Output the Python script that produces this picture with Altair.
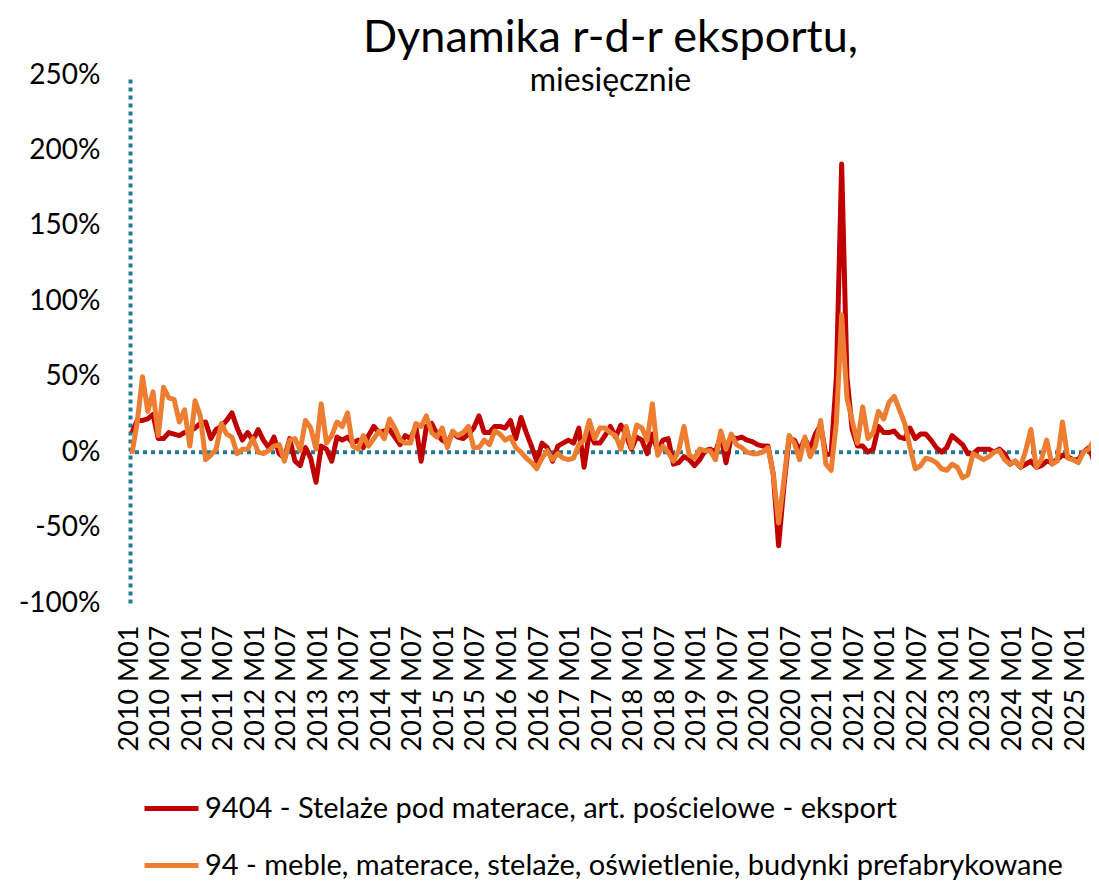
import altair as alt
import pandas as pd

years = list(range(2010, 2026))
month_codes = ["M%02d" % i for i in range(1, 13)]
n_points = 184
periods = [f"{y} {m}" for y in years for m in month_codes][:n_points]
tick_labels = [p for p in periods if p.endswith("M01") or p.endswith("M07")]

series_red = "9404 - Stelaże pod materace, art. pościelowe - eksport"
series_orange = "94 - meble, materace, stelaże, oświetlenie, budynki prefabrykowane"

red_values = [13, 21, 21, 22, 25, 9, 9, 13, 12, 11,
              13, 14, 16, 19, 20, 9, 15, 17, 21, 26,
              16, 8, 13, 8, 15, 8, 3, 10, -1, -4,
              9, -6, -9, 3, -4, -20, 4, 2, -6, 10,
              8, 10, 6, 8, 3, 11, 17, 13, 14, 15,
              10, 5, 11, 9, 17, -6, 17, 19, 12, 8,
              6, 13, 10, 9, 12, 16, 24, 13, 13, 17,
              17, 16, 21, 9, 23, 13, 4, -6, 6, 3,
              -6, 4, 6, 8, 6, 16, -10, 13, 6, 6,
              11, 17, 10, 18, 11, 2, 10, 8, -1, 12,
              1, 8, 9, -8, -7, -3, -5, -9, -5, 1,
              2, 0, 11, -7, 10, 9, 10, 8, 7, 5,
              4, 4, -15, -62, -23, 9, 8, 1, 9, 2,
              12, 18, -2, -1, 50, 191, 50, 15, 4, 4,
              0, 2, 17, 13, 13, 14, 10, 9, 16, 9,
              12, 12, 8, 3, 0, 3, 11, 8, 5, -1,
              -1, 2, 2, 2, 0, 2, -1, -8, -6, -10,
              -8, -6, -10, -9, -6, -7, -5, -2, -3, -5,
              -5, 0, 3, -6]

orange_values = [-1, 20, 50, 27, 40, 11, 43, 36, 35, 20,
                 28, 4, 34, 24, -5, -2, 2, 19, 12, 10,
                 -1, 2, 2, 9, 0, -1, 1, 4, 5, -6,
                 8, 9, 1, 21, 16, 2, 32, 6, 11, 20,
                 17, 26, 4, 2, 11, 4, 9, 14, 9, 22,
                 16, 8, 6, 6, 19, 17, 24, 13, 10, 16,
                 3, 14, 11, 13, 17, 3, 3, 8, 5, 14,
                 12, 8, 10, 3, 0, -4, -7, -11, -4, 1,
                 -5, -1, -4, -5, -4, 5, 8, 21, 9, 16,
                 16, 13, 11, 2, 17, 3, 18, 16, 8, 32,
                 -2, 4, 0, -6, 1, 17, -2, -4, 2, 1,
                 1, -5, 14, 2, 12, 5, 3, 0, -1, -1,
                 0, 3, -15, -47, -19, 11, 6, -5, 10, -3,
                 4, 21, -8, -12, 20, 91, 36, 21, 6, 30,
                 9, 13, 27, 22, 33, 37, 28, 19, 3, -11,
                 -9, -4, -5, -7, -11, -12, -8, -10, -17, -15,
                 -1, -3, -5, -3, 0, 1, -5, -8, -6, -10,
                 1, 15, -10, -5, 8, -8, -6, 20, -4, -5,
                 -7, 0, 2, 8]

y_ticks = [-100, -50, 0, 50, 100, 150, 200, 250]

df_red = pd.DataFrame({"period": periods, "value": red_values, "series": series_red})
df_orange = pd.DataFrame({"period": periods, "value": orange_values, "series": series_orange})
df_zero = pd.DataFrame({"value": [0]})

FONT = "Lato"
TEAL = "#1F7A93"

x_enc = alt.X(
    "period:O",
    sort=periods,
    scale=alt.Scale(domain=periods, padding=0, range=[2, 964]),
    axis=alt.Axis(
        values=tick_labels, labelAngle=270, labelFontSize=27, labelFont=FONT,
        labelColor="#000000", ticks=False, tickSize=0, domain=False,
        labelPadding=22, labelOffset=-3, title=None, labelOverlap=False,
    ),
)
y_enc = alt.Y(
    "value:Q",
    scale=alt.Scale(domain=[-100, 250], nice=False, zero=False),
    axis=alt.Axis(
        values=y_ticks, labelExpr="datum.value + '%'", grid=False, ticks=False,
        tickSize=0, domainColor=TEAL, domainWidth=4, domainDash=[4, 4],
        labelFontSize=28, labelFont=FONT, labelColor="#000000",
        labelPadding=30, title=None,
    ),
)
color_enc = alt.Color(
    "series:N",
    scale=alt.Scale(domain=[series_red, series_orange], range=["#C00000", "#ED7D31"]),
    legend=alt.Legend(
        orient="none", legendX=12, legendY=704, direction="vertical", title=None,
        symbolType="stroke", symbolSize=2916, symbolStrokeWidth=5,
        labelFontSize=29, labelFont=FONT, labelColor="#000000", labelLimit=1200,
        rowPadding=12, padding=0, labelOffset=4,
    ),
)

zero_rule = alt.Chart(df_zero).mark_rule(
    color=TEAL, strokeWidth=4, strokeDash=[4, 4]
).encode(y=alt.Y("value:Q"))

line_red = alt.Chart(df_red).mark_line(strokeWidth=5, strokeJoin="round").encode(
    x=x_enc, y=y_enc, color=color_enc
)
line_orange = alt.Chart(df_orange).mark_line(strokeWidth=5, strokeJoin="round").encode(
    x=x_enc, y=y_enc, color=color_enc
)

chart = alt.layer(zero_rule, line_red, line_orange).properties(
    width=961,
    height=528,
    autosize="none",
    padding={"left": 122, "top": 67, "right": 0, "bottom": 277},
    title=alt.TitleParams(
        text="Dynamika r-d-r eksportu,",
        subtitle="miesięcznie",
        fontSize=45,
        subtitleFontSize=32,
        font=FONT,
        subtitleFont=FONT,
        fontWeight="normal",
        color="#000000",
        subtitleColor="#000000",
        anchor="middle",
        offset=-36,
        subtitlePadding=5,
    ),
).configure_view(stroke=None)

chart.save("out.html", embed_options={"renderer": "svg", "actions": False})
